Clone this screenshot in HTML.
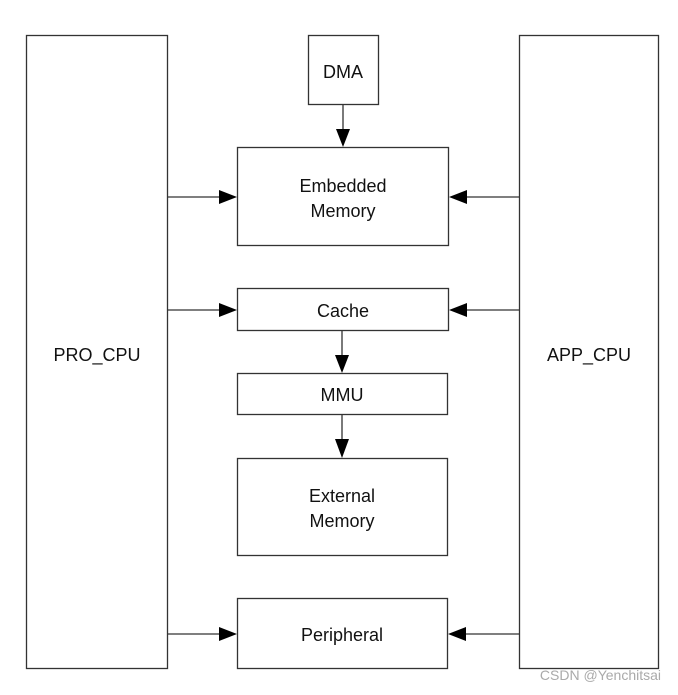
<!DOCTYPE html>
<html><head><style>body{margin:0;background:#fff}</style></head><body>
<svg width="678" height="690" xmlns="http://www.w3.org/2000/svg" font-family="Liberation Sans, sans-serif" font-size="18">
<rect width="678" height="690" fill="#fff"/>
<g fill="none" stroke="#333" stroke-width="1.3">
<rect x="26.5" y="35.5" width="141" height="633"/>
<rect x="519.5" y="35.5" width="139" height="633"/>
<rect x="308.5" y="35.5" width="70" height="69"/>
<rect x="237.5" y="147.5" width="211" height="98"/>
<rect x="237.5" y="288.5" width="211" height="42"/>
<rect x="237.5" y="373.5" width="210" height="41"/>
<rect x="237.5" y="458.5" width="210" height="97"/>
<rect x="237.5" y="598.5" width="210" height="70"/>
<path d="M343 105V130M342 331V356M342 415V440M167 197H222M519 197H465M167 310H222M519 310H465M167 634H222M519 634H465"/>
</g>
<g fill="#000">
<path d="M336 129H350L343 147Z"/>
<path d="M335 355H349L342 373Z"/>
<path d="M335 439H349L342 458Z"/>
<path d="M219 190V204L237 197Z"/>
<path d="M467 190V204L449 197Z"/>
<path d="M219 303V317L237 310Z"/>
<path d="M467 303V317L449 310Z"/>
<path d="M219 627V641L237 634Z"/>
<path d="M466 627V641L448 634Z"/>
</g>
<g text-anchor="middle" fill="#111">
<text x="343" y="78">DMA</text>
<text x="343" y="192">Embedded</text>
<text x="343" y="217">Memory</text>
<text x="343" y="317">Cache</text>
<text x="342" y="401">MMU</text>
<text x="342" y="502">External</text>
<text x="342" y="527">Memory</text>
<text x="342" y="641">Peripheral</text>
<text x="97" y="361">PRO_CPU</text>
<text x="589" y="361">APP_CPU</text>
</g>
<text x="661" y="680" text-anchor="end" font-size="14" fill="#aaa">CSDN @Yenchitsai</text>
</svg>
</body></html>
